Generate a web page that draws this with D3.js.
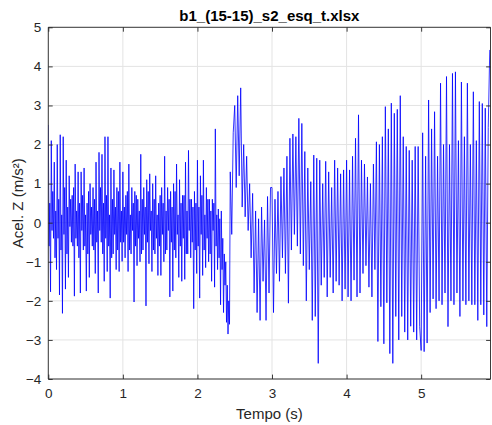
<!DOCTYPE html>
<html><head><meta charset="utf-8">
<script src="https://cdn.jsdelivr.net/npm/d3@7"></script>
<style>
html,body{margin:0;padding:0;background:#fff;}
text{font-family:"Liberation Sans",Arial,Helvetica,sans-serif;}
</style></head>
<body>
<svg id="chart" width="492" height="425"></svg>
<script>
// ---- data ----
const chartTitle = "b1_(15-15)_s2_esq_t.xlsx";
const xLabel = "Tempo (s)";
const yLabel = "Acel. Z (m/s²)";
const xTicks = [0, 1, 2, 3, 4, 5];
const yTicks = [-4, -3, -2, -1, 0, 1, 2, 3, 4, 5];
// 0 – 1 s, samples every 0.01 s
const accel_0to1 = [2.5,-0.6,0.5,-1.77, 2.1,-0.2,0.8,-0.4, 1.55,-0.9,0.3,-1.2, 2.0,-0.4,0.6,-1.85, 2.25,-0.7,0.2,-2.32,
  2.2,-0.3,0.9,-1.7, 1.6,-0.8,0.4,-1.4, 1.2,-0.1,0.6,-0.5, 0.7,-0.6,0.9,-1.88, 1.5,-0.4,0.3,-0.6,
  1.3,-0.9,0.5,-1.8, 1.3,-0.2,0.7,-0.7, 1.4,-0.6,0.2,-1.75, 0.5,-0.8,0.8,-1.4, 1.0,-0.3,0.4,-0.6,
  0.9,-0.7,0.6,-1.3, 1.55,-0.5,0.3,-1.8, 1.8,-0.2,0.9,-0.5, 1.75,-0.8,0.5,-1.5, 2.2,-0.4,0.7,-1.25,
  2.2,-0.6,0.2,-1.93, 1.4,-0.9,0.6,-0.8, 1.35,-0.3,0.4,-1.2, 0.9,-0.7,0.8,-1.25, 1.55,-0.5,0.3,-0.99];
// 1 – 2 s, samples every 0.01 s
const accel_1to2 = [1.3,-0.5,0.4,-0.9, 0.7,-0.3,0.8,-1.25, 1.5,-0.7,0.2,-0.8, 0.9,-0.2,0.5,-2.03, 0.8,-0.6,0.7,-1.1,
  0.6,-0.4,0.3,-1.0, 1.75,-0.8,0.6,-0.7, 0.9,-0.3,0.4,-2.13, 1.1,-0.5,0.8,-1.05, 1.25,-0.2,0.3,-1.25,
  1.0,-0.7,0.6,-0.8, 1.2,-0.4,0.2,-1.35, 0.5,-0.6,0.7,-1.35, 0.9,-0.3,0.5,-1.0, 1.7,-0.8,0.3,-0.7,
  0.9,-0.2,0.6,-1.9, 0.8,-0.5,0.4,-1.75, 1.0,-0.7,0.8,-0.9, 1.5,-0.3,0.2,-1.4, 1.1,-0.6,0.5,-1.5,
  0.7,-0.4,0.7,-1.45, 1.55,-0.8,0.3,-0.8, 1.85,-0.2,0.6,-0.9, 0.6,-0.5,0.4,-2.2, 0.8,-0.7,0.5,-1.3];
// 2 – 2.44 s, samples every 0.01 s
const accel_2to244 = [1.6,-0.6,0.4,-1.93, 1.2,-0.3,0.7,-1.35, 1.6,-0.7,0.2,-1.15, 0.9,-0.4,0.6,-1.0, 0.6,-0.8,0.3,-1.5,
  0.6,-0.2,0.5,-1.65, 2.4,-0.6,0.2,-1.2, 0.35,-0.9,0.1,-2.1, 0.3,-1.2,-0.4,-2.3, -0.8,-1.6,-1.0,-2.55,
  -1.6,-2.85,-2.0,-2.6];
// 2.44 – 3 s, samples every 0.02 s
const accel_244to3 = [1.3,-0.3,2.3,3.0,0.9,3.25,1.2,3.45,0.4,2.0,0.15,1.7,-0.2,1.0,-0.9,0.75,-1.8,0.3,-2.3,0.1,-2.5,0.4,-1.5,0.07,-2.5,0.67,-1.8,0.9];
// 3 – 4 s, samples every 0.02 s
const accel_3to4 = [0.9,-2.3,0.6,-1.3,0.8,-1.5,1.18,-0.9,1.4,-1.3,1.7,-2.06,2.16,-0.7,2.27,-0.3,2.2,-0.6,2.67,-0.8,2.54,-1.1,1.82,-2.0,1.4,-1.2,1.05,-2.5,1.73,-2.4,1.65,-3.6,1.6,-1.6,1.0,-1.4,1.57,-1.9,1.3,-1.4,0.9,-1.8,1.6,-1.5,1.4,-1.6,1.25,-2.0,1.35,-1.7];
// 4 – 5 s, samples every 0.02 s
const accel_4to5 = [1.6,-1.9,1.35,-2.0,1.7,-1.47,2.16,-1.9,2.76,-1.8,1.6,-1.3,1.5,-1.1,1.17,-1.65,1.0,-1.9,1.5,-1.2,2.07,-3.04,2.0,-2.15,2.2,-3.1,2.97,-2.05,2.4,-3.35,3.06,-3.6,2.8,-2.4,2.9,-3.0,3.25,-2.4,2.2,-2.8,1.95,-3.0,1.85,-2.65,1.6,-2.8,1.95,-3.0,1.95,-2.66];
// 5 – 5.92 s, samples every 0.02 s
const accel_5to6 = [-3.27,2.3,-3.3,1.7,-3.08,3.14,-2.3,2.4,-1.95,2.84,-2.2,1.7,-2.0,3.57,-2.1,2.0,-1.8,3.74,-2.66,2.0,-2.0,3.82,-2.1,3.86,-1.8,2.1,-2.4,3.6,-2.0,2.2,-2.1,3.57,-2.0,2.0,-2.1,3.35,-2.1,2.1,-2.5,3.1,-2.1,3.05,-2.36,2.93,-2.66,2.44,4.42];

const pieces = [
  {start: 0.00, step: 0.01, values: accel_0to1},
  {start: 1.00, step: 0.01, values: accel_1to2},
  {start: 2.00, step: 0.01, values: accel_2to244},
  {start: 2.44, step: 0.02, values: accel_244to3},
  {start: 3.00, step: 0.02, values: accel_3to4},
  {start: 4.00, step: 0.02, values: accel_4to5},
  {start: 5.00, step: 0.02, values: accel_5to6}
];
const series = pieces.flatMap(p => p.values.map((v, i) => ({t: p.start + i * p.step, v})));

// ---- layout ----
const svg = d3.select("#chart");
const L = 48.3, R = 490.5, T = 27.3, B = 379;
const x = d3.scaleLinear().domain([0, 5.93]).range([L, R]);
const y = d3.scaleLinear().domain([-4, 5]).range([B, T]);
const axisColor = "#262626";
const gridColor = "#e3e3e3";

// grid
svg.append("g").selectAll("line").data(xTicks).join("line")
  .attr("x1", d => x(d)).attr("x2", d => x(d)).attr("y1", T).attr("y2", B)
  .attr("stroke", gridColor).attr("stroke-width", 1);
svg.append("g").selectAll("line").data(yTicks).join("line")
  .attr("y1", d => y(d)).attr("y2", d => y(d)).attr("x1", L).attr("x2", R)
  .attr("stroke", gridColor).attr("stroke-width", 1);

// data line
svg.append("clipPath").attr("id", "clip").append("rect")
  .attr("x", L).attr("y", T).attr("width", R - L).attr("height", B - T);
const line = d3.line().x(d => x(d.t)).y(d => y(d.v));
svg.append("path").datum(series)
  .attr("clip-path", "url(#clip)")
  .attr("fill", "none").attr("stroke", "#0000ff").attr("stroke-width", 0.8)
  .attr("stroke-linejoin", "miter").attr("d", line);

// axes (box with inward ticks)
const tickLen = 4.4;
const fmt = d3.format("d");
const gB = svg.append("g").attr("transform", `translate(0,${B})`)
  .call(d3.axisBottom(x).tickValues(xTicks).tickSize(-tickLen).tickPadding(9).tickFormat(fmt));
const gT = svg.append("g").attr("transform", `translate(0,${T})`)
  .call(d3.axisTop(x).tickValues(xTicks).tickSize(-tickLen).tickFormat(""));
const gL = svg.append("g").attr("transform", `translate(${L},0)`)
  .call(d3.axisLeft(y).tickValues(yTicks).tickSize(-tickLen).tickPadding(7).tickFormat(fmt));
const gR = svg.append("g").attr("transform", `translate(${R},0)`)
  .call(d3.axisRight(y).tickValues(yTicks).tickSize(-tickLen).tickFormat(""));
[gB, gT, gL, gR].forEach(g => {
  g.select(".domain").attr("stroke", axisColor).attr("stroke-width", 0.9);
  g.selectAll(".tick line").attr("stroke", axisColor).attr("stroke-width", 0.9);
  g.selectAll(".tick text").attr("fill", axisColor)
    .style("font-size", "13.5px").style("font-family", '"Liberation Sans", Arial, sans-serif');
});
gB.select(".domain").attr("d", `M${L},0H${R}`);
gT.select(".domain").attr("d", `M${L},0H${R}`);
gL.select(".domain").attr("d", `M0,${T}V${B}`);
gR.select(".domain").attr("d", `M0,${T}V${B}`);

// title & labels
svg.append("text").attr("x", (L + R) / 2).attr("y", 21)
  .attr("text-anchor", "middle").attr("font-weight", "bold").attr("font-size", 15)
  .attr("fill", "#000").text(chartTitle);
svg.append("text").attr("x", (L + R) / 2).attr("y", 419)
  .attr("text-anchor", "middle").attr("font-size", 15).attr("fill", axisColor).text(xLabel);
svg.append("text").attr("transform", `translate(23,${(T + B) / 2}) rotate(-90)`)
  .attr("text-anchor", "middle").attr("font-size", 15).attr("fill", axisColor).text(yLabel);
</script>
</body></html>
